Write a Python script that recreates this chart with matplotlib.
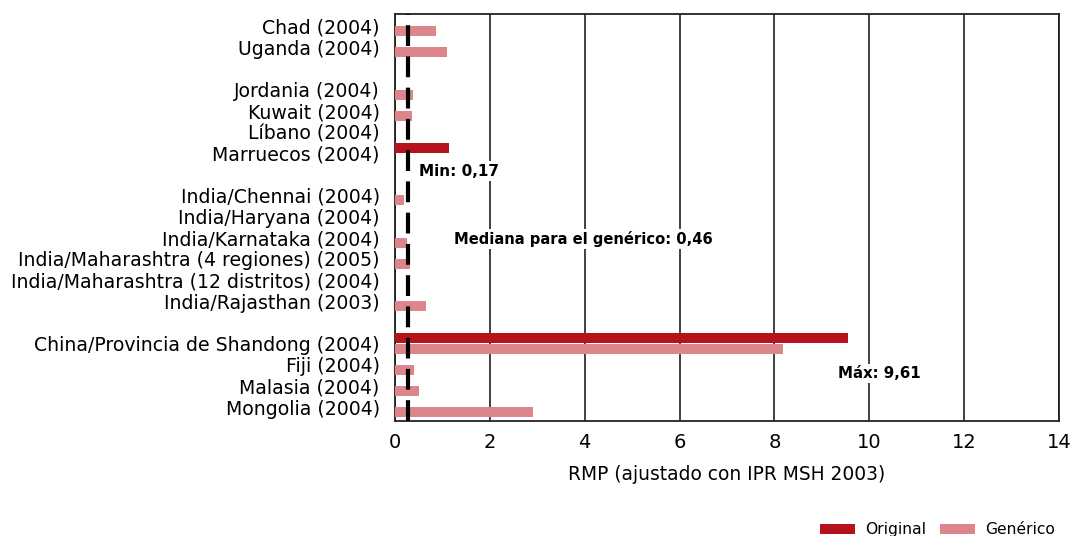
import matplotlib.pyplot as plt
import numpy as np

# data
categories = [
    "Chad (2004)", "Uganda (2004)", None,
    "Jordania (2004)", "Kuwait (2004)", "Líbano (2004)", "Marruecos (2004)", None,
    "India/Chennai (2004)", "India/Haryana (2004)", "India/Karnataka (2004)",
    "India/Maharashtra (4 regiones) (2005)", "India/Maharashtra (12 distritos) (2004)",
    "India/Rajasthan (2003)", None,
    "China/Provincia de Shandong (2004)", "Fiji (2004)", "Malasia (2004)", "Mongolia (2004)",
]
original = [0, 0, None, 0, 0, 0, 1.14, None, 0, 0, 0, 0, 0, 0, None, 9.55, 0, 0, 0]
generico = [0.86, 1.1, None, 0.37, 0.35, 0, 0, None, 0.19, 0, 0.25, 0.32, 0, 0.65, None, 8.19, 0.40, 0.50, 2.9]
median_line = 0.27
x_ticks = [0, 2, 4, 6, 8, 10, 12, 14]

col_original = "#b5121b"
col_generico = "#dc868c"

plt.rcParams['font.family'] = ['DejaVu Sans']

fig = plt.figure(figsize=(10.73, 5.36), dpi=100)
ax = fig.add_axes([395 / 1073, 1 - 421 / 536, (1059 - 395) / 1073, (421 - 14) / 536])

pos = [i for i, c in enumerate(categories) if c is not None]
labels = [c for c in categories if c is not None]
orig_vals = [original[i] for i in pos]
gen_vals = [generico[i] for i in pos]
pos = np.array(pos)

bar_h = 0.47
ax.barh(pos - 0.24, orig_vals, height=bar_h, color=col_original, label="Original", zorder=3)
ax.barh(pos + 0.24, gen_vals, height=bar_h, color=col_generico, label="Genérico", zorder=3)

ax.axvline(median_line, color="black", linewidth=3, dashes=(5, 2.5), zorder=4)

ax.set_ylim(18.66, -0.57)
ax.set_xlim(0, 14)
ax.set_yticks(pos)
ax.set_yticklabels(labels, fontsize=13.6)
ax.set_xticks(x_ticks)
ax.set_xticklabels([str(t) for t in x_ticks], fontsize=14)
ax.tick_params(length=0, pad=9)
ax.tick_params(axis='y', pad=11)
ax.grid(axis='x', color="#333333", linewidth=1.3, zorder=1)
ax.set_axisbelow(True)
for sp in ax.spines.values():
    sp.set_color("#222222")
    sp.set_linewidth(1.3)

ax.set_xlabel("RMP (ajustado con IPR MSH 2003)", fontsize=13.4, labelpad=9)

box = dict(facecolor="white", edgecolor="none", pad=1.5)
ax.text(0.5, 6.85, "Min: 0,17", fontsize=11, fontweight="bold", va="center", ha="left", bbox=box, zorder=5)
ax.text(1.25, 10.05, "Mediana para el genérico: 0,46", fontsize=10.6, fontweight="bold",
        va="center", ha="left", bbox=box, zorder=5)
ax.text(9.35, 16.4, "Máx: 9,61", fontsize=10.8, fontweight="bold", va="center", ha="left", bbox=box, zorder=5)

fig.legend(loc="lower right", bbox_to_anchor=(1064 / 1073, -0.02), ncol=2, frameon=False,
           fontsize=11.2, handlelength=2.3, handleheight=0.65, columnspacing=0.9, handletextpad=0.6,
           borderaxespad=0.2)

fig.savefig("out.png", dpi=100)
